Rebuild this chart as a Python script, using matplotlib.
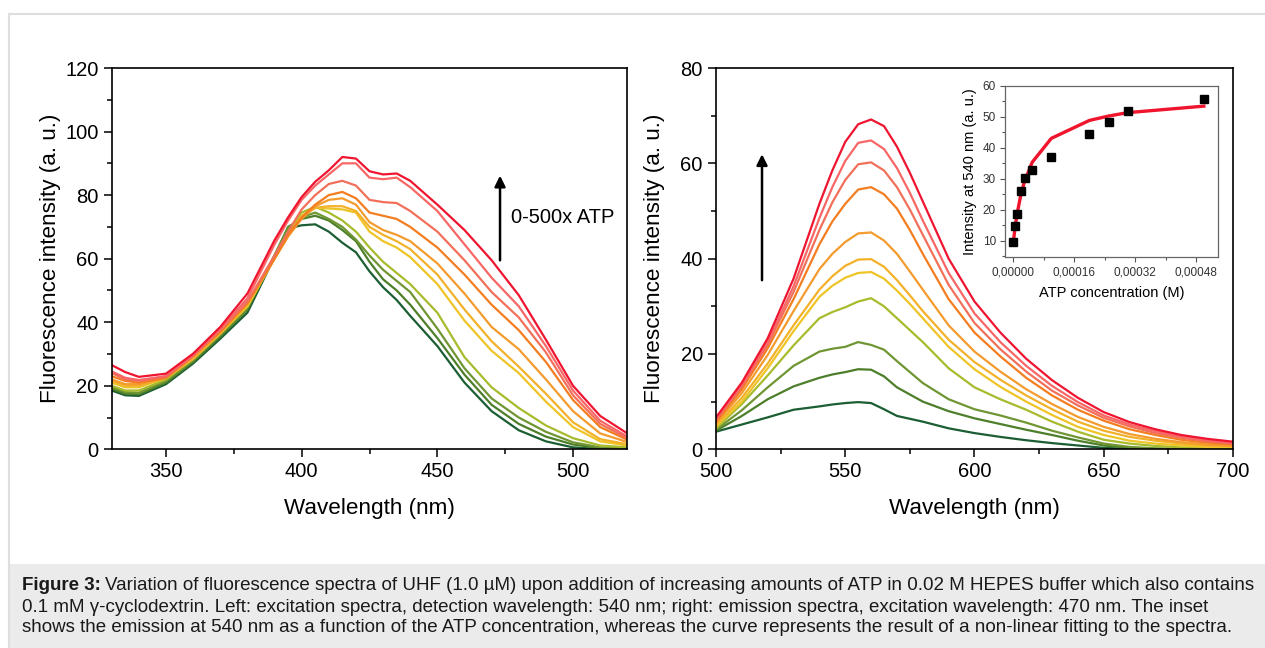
import numpy as np
import matplotlib
matplotlib.use("Agg")
import matplotlib.pyplot as plt
from matplotlib.patches import Rectangle
from matplotlib.lines import Line2D
from matplotlib.ticker import MultipleLocator, FuncFormatter

plt.rcParams['font.family'] = ['Liberation Sans', 'DejaVu Sans']

# colours from 0x ATP (dark green) to 500x ATP (red)
colors = ['#1b5e33', '#4d7f2a', '#6f9632', '#a8bb2c', '#efc426', '#f3b12a',
          '#f49b2e', '#f47d20', '#f2705a', '#f96666', '#ef1530']

# ---- left: excitation spectra ----
wl_exc = [330, 335, 340, 350, 360, 370, 380, 390, 395, 400, 405, 410, 415, 420,
          425, 430, 435, 440, 450, 460, 470, 480, 490, 500, 510, 520]
exc = [
    [18.5, 17.0, 16.8, 20.5, 27.0, 34.8, 43.0, 60.5, 69.5, 70.5, 70.8, 68.5, 65.0, 62.0,
     56.0, 51.0, 47.0, 42.0, 32.5, 21.0, 12.0, 6.0, 2.5, 0.6, 0.1, 0.0],
    [19.0, 17.5, 17.3, 21.0, 27.5, 35.5, 44.0, 61.0, 70.0, 72.5, 73.5, 72.0, 69.0, 65.5,
     59.0, 53.5, 50.0, 45.5, 35.0, 23.5, 14.0, 8.0, 4.0, 1.5, 0.4, 0.1],
    [19.5, 18.0, 17.8, 21.5, 28.0, 36.0, 44.5, 61.0, 69.5, 73.0, 74.5, 72.5, 70.0, 66.0,
     61.0, 56.5, 53.0, 49.5, 38.0, 25.5, 16.0, 10.0, 5.5, 2.2, 0.6, 0.3],
    [20.0, 18.5, 18.5, 22.0, 28.5, 36.5, 45.0, 60.5, 68.5, 74.5, 76.3, 74.5, 72.0, 68.5,
     63.5, 59.0, 55.5, 52.0, 43.0, 29.0, 19.5, 13.0, 7.5, 3.5, 1.2, 0.6],
    [21.0, 19.5, 19.5, 22.5, 28.5, 36.5, 45.0, 60.0, 67.5, 73.5, 76.0, 75.8, 75.5, 74.5,
     68.5, 65.5, 63.5, 60.5, 52.0, 40.5, 31.0, 24.0, 15.0, 7.0, 2.5, 1.2],
    [21.5, 20.0, 20.0, 22.5, 28.5, 36.5, 45.5, 60.0, 67.0, 73.0, 76.0, 76.5, 76.5, 75.0,
     70.0, 67.5, 65.5, 63.0, 55.0, 44.0, 34.0, 26.0, 17.5, 8.5, 3.2, 1.6],
    [22.0, 20.5, 20.5, 22.5, 29.0, 37.0, 46.0, 60.0, 67.0, 72.5, 76.5, 78.5, 79.0, 77.0,
     71.5, 69.0, 67.5, 65.5, 58.5, 49.0, 38.5, 31.5, 22.0, 12.0, 5.0, 2.3],
    [23.0, 21.5, 21.0, 22.5, 29.5, 37.0, 46.0, 60.0, 67.5, 73.0, 77.0, 80.0, 81.0, 79.0,
     74.5, 73.5, 72.5, 70.0, 63.5, 55.0, 45.5, 37.5, 27.5, 15.5, 7.0, 3.0],
    [24.0, 22.0, 21.5, 23.0, 29.5, 37.5, 46.5, 61.0, 68.5, 75.5, 80.0, 83.5, 84.5, 83.0,
     78.5, 77.8, 77.5, 75.0, 68.5, 59.5, 49.5, 41.5, 30.5, 17.0, 8.0, 3.5],
    [24.5, 22.5, 21.8, 23.0, 29.5, 38.0, 47.5, 64.5, 72.0, 78.5, 83.0, 86.5, 90.0, 90.0,
     85.5, 85.0, 85.5, 82.5, 75.0, 64.5, 54.0, 45.0, 32.5, 18.5, 9.0, 4.0],
    [26.5, 24.3, 22.8, 23.8, 30.1, 38.5, 49.0, 65.8, 73.0, 79.4, 84.2, 87.8, 92.0, 91.5,
     87.5, 86.5, 86.8, 84.5, 77.0, 69.0, 59.5, 48.5, 34.5, 20.0, 10.5, 5.0],
]

# ---- right: emission spectra ----
wl_em = [500, 510, 520, 530, 540, 545, 550, 555, 560, 565, 570, 575, 580, 590, 600, 610,
         620, 630, 640, 650, 660, 670, 680, 690, 700]
em = [
    [3.7, 5.2, 6.7, 8.3, 9.0, 9.4, 9.7, 9.9, 9.7, 8.4, 7.0, 6.4, 5.8, 4.4, 3.4, 2.6,
     1.9, 1.3, 0.8, 0.3, 0.1, 0.0, 0.0, 0.0, 0.0],
    [3.9, 7.0, 10.5, 13.2, 15.0, 15.7, 16.2, 16.8, 16.7, 15.3, 13.0, 11.5, 10.0, 8.0, 6.5, 5.3,
     4.1, 3.0, 1.8, 0.8, 0.3, 0.1, 0.0, 0.0, 0.0],
    [4.1, 8.2, 13.0, 17.5, 20.5, 21.1, 21.5, 22.5, 21.9, 20.9, 18.5, 16.2, 13.9, 10.5, 8.4, 7.1,
     5.6, 3.9, 2.5, 1.2, 0.5, 0.2, 0.1, 0.0, 0.0],
    [4.4, 9.5, 15.5, 21.8, 27.5, 28.8, 29.8, 31.0, 31.7, 30.0, 27.5, 25.0, 22.5, 17.0, 13.0, 10.5,
     8.3, 5.8, 3.7, 2.0, 1.2, 0.7, 0.4, 0.2, 0.1],
    [4.8, 10.0, 17.0, 24.8, 32.0, 34.3, 36.0, 37.0, 37.2, 35.8, 33.3, 30.5, 27.5, 21.5, 16.8, 13.1,
     10.0, 7.2, 4.7, 3.0, 1.8, 1.2, 0.8, 0.5, 0.4],
    [5.1, 10.8, 18.0, 26.0, 33.5, 36.3, 38.5, 39.8, 39.9, 38.3, 35.5, 32.3, 29.0, 23.0, 18.3, 14.6,
     11.3, 8.4, 5.8, 3.9, 2.6, 1.8, 1.2, 0.8, 0.6],
    [5.5, 11.8, 19.8, 29.0, 37.8, 41.0, 43.5, 45.3, 45.5, 43.8, 41.0, 37.3, 33.5, 26.0, 20.5, 16.3,
     12.6, 9.5, 6.8, 4.7, 3.2, 2.2, 1.5, 1.0, 0.7],
    [5.8, 12.6, 21.2, 31.5, 43.0, 47.8, 51.5, 54.5, 55.0, 53.5, 50.5, 46.0, 41.0, 31.5, 24.5, 19.5,
     15.0, 11.3, 8.3, 6.0, 4.2, 3.0, 2.0, 1.4, 1.0],
    [6.2, 13.2, 22.0, 33.0, 46.0, 51.8, 56.5, 59.8, 60.2, 58.5, 55.0, 50.3, 45.0, 34.5, 26.5, 21.0,
     16.3, 12.3, 9.2, 6.6, 4.8, 3.4, 2.4, 1.7, 1.2],
    [6.3, 13.5, 22.5, 34.2, 48.5, 55.0, 60.5, 64.3, 64.8, 63.0, 59.0, 53.8, 48.0, 37.0, 28.5, 22.5,
     17.5, 13.3, 9.9, 7.1, 5.2, 3.8, 2.7, 1.9, 1.3],
    [6.7, 14.0, 23.3, 35.8, 51.5, 58.5, 64.5, 68.2, 69.2, 67.8, 63.5, 58.0, 52.0, 40.0, 31.0, 24.5,
     19.0, 14.5, 10.8, 7.8, 5.7, 4.2, 3.0, 2.2, 1.6],
]

# ---- inset: intensity at 540 nm vs ATP ----
atp_conc = [0.0, 0.000005, 0.00001, 0.00002, 0.00003, 0.00005, 0.0001,
            0.0002, 0.00025, 0.0003, 0.0005]
atp_int = [9.4, 14.7, 18.6, 26.1, 30.1, 32.8, 36.9, 44.3, 48.4, 51.8, 55.6]
atp_fit = [9.0, 14.2, 18.4, 24.7, 29.2, 35.3, 43.0, 48.8, 50.2, 51.3, 53.4]

W, H = 1265, 648
fig = plt.figure(figsize=(W / 100, H / 100), dpi=100)

# frame and caption box
fig.add_artist(Line2D([9 / W, 1], [1 - 14 / H, 1 - 14 / H], color='#dedede', lw=1.5))
fig.add_artist(Line2D([9 / W, 9 / W], [1 - 14 / H, 0], color='#dedede', lw=1.5))
fig.add_artist(Rectangle((9 / W, 0), 1 - 9 / W, (H - 564) / H, facecolor='#ebebeb',
                         edgecolor='none', transform=fig.transFigure))

def style(ax):
    ax.tick_params(which='major', direction='out', length=6, width=1.1, labelsize=14.5)
    ax.tick_params(which='minor', direction='out', length=3.5, width=1.1)
    ax.tick_params(top=False, right=False, which='both')
    for s in ax.spines.values():
        s.set_linewidth(1.2)

ax1 = fig.add_axes([111.7 / W, 1 - 449.3 / H, 515.6 / W, 381.3 / H])
for ys, c in zip(exc, colors):
    ax1.plot(wl_exc, ys, color=c, lw=1.6)
ax1.set_xlim(330, 520)
ax1.set_ylim(0, 120)
ax1.xaxis.set_major_locator(MultipleLocator(50))
ax1.xaxis.set_minor_locator(MultipleLocator(25))
ax1.yaxis.set_major_locator(MultipleLocator(20))
ax1.yaxis.set_minor_locator(MultipleLocator(10))
style(ax1)
ax1.set_xlabel('Wavelength (nm)', fontsize=16.2, labelpad=12)
ax1.set_ylabel('Fluorescence intensity (a. u.)', fontsize=16.2)
ax1.yaxis.set_label_coords(-0.098, 0.5)
ax1.annotate('', xy=(473.1, 87), xytext=(473.1, 58.6),
             arrowprops=dict(arrowstyle='-|>', color='black', lw=1.8, mutation_scale=16))
ax1.text(477.3, 73, '0-500x ATP', fontsize=14.5, va='center')

ax2 = fig.add_axes([716 / W, 1 - 449.3 / H, 517 / W, 381.3 / H])
for ys, c in zip(em, colors):
    ax2.plot(wl_em, ys, color=c, lw=1.6)
ax2.set_xlim(500, 700)
ax2.set_ylim(0, 80)
ax2.xaxis.set_major_locator(MultipleLocator(50))
ax2.xaxis.set_minor_locator(MultipleLocator(25))
ax2.yaxis.set_major_locator(MultipleLocator(20))
ax2.yaxis.set_minor_locator(MultipleLocator(10))
style(ax2)
ax2.set_xlabel('Wavelength (nm)', fontsize=16.2, labelpad=12)
ax2.set_ylabel('Fluorescence intensity (a. u.)', fontsize=16.2)
ax2.yaxis.set_label_coords(-0.0987, 0.5)
ax2.annotate('', xy=(517.8, 62.5), xytext=(517.8, 34.9),
             arrowprops=dict(arrowstyle='-|>', color='black', lw=1.8, mutation_scale=16))

ax3 = fig.add_axes([1005 / W, 1 - 257 / H, 213 / W, 171.3 / H])
ax3.plot(atp_conc, atp_fit, color='#f0142d', lw=2.4, zorder=2)
ax3.plot(atp_conc, atp_int, 's', color='black', ms=5.5, zorder=3)
ax3.set_xlim(-0.0000214, 0.000537)
ax3.set_ylim(4.7, 60)
ax3.xaxis.set_major_locator(MultipleLocator(0.00016))
ax3.xaxis.set_minor_locator(MultipleLocator(0.00008))
ax3.yaxis.set_major_locator(MultipleLocator(10))
ax3.yaxis.set_minor_locator(MultipleLocator(5))
ax3.xaxis.set_major_formatter(FuncFormatter(lambda v, p: f'{v:.5f}'.replace('.', ',')))
ax3.tick_params(which='major', direction='out', length=3.5, width=0.8, labelsize=8.5,
                labelcolor='#333333', color='#555555', pad=3)
ax3.tick_params(which='minor', direction='out', length=2, width=0.8, color='#555555')
for s in ax3.spines.values():
    s.set_color('#666666')
    s.set_linewidth(0.9)
ax3.set_xlabel('ATP concentration (M)', fontsize=10.5, labelpad=6)
ax3.set_ylabel('Intensity at 540 nm (a. u.)', fontsize=10.5, labelpad=4)

# caption
cap_size = 13.5
t = fig.text(22 / W, 1 - 585 / H, 'Figure 3:', fontsize=cap_size, fontweight='bold',
             va='center', color='#1a1a1a')
fig.canvas.draw()
bb = t.get_window_extent()
fig.text(bb.x1 / W + 4 / W, 1 - 585 / H,
         'Variation of fluorescence spectra of UHF (1.0 µM) upon addition of increasing '
         'amounts of ATP in 0.02 M HEPES buffer which also contains',
         fontsize=cap_size, va='center', color='#1a1a1a')
fig.text(22 / W, 1 - 607 / H,
         '0.1 mM γ-cyclodextrin. Left: excitation spectra, detection wavelength: 540 nm; '
         'right: emission spectra, excitation wavelength: 470 nm. The inset',
         fontsize=cap_size, va='center', color='#1a1a1a')
fig.text(22 / W, 1 - 628 / H,
         'shows the emission at 540 nm as a function of the ATP concentration, whereas '
         'the curve represents the result of a non-linear fitting to the spectra.',
         fontsize=cap_size, va='center', color='#1a1a1a')

fig.savefig('out.png', dpi=100)
